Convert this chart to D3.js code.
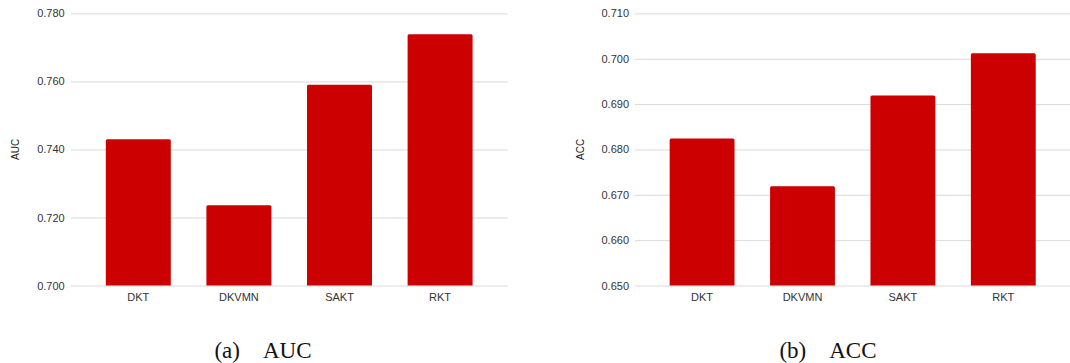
<!DOCTYPE html>
<html>
<head>
<meta charset="utf-8">
<script src="https://cdn.jsdelivr.net/npm/d3@7"></script>
<style>
  html, body { margin: 0; padding: 0; background: #fff; }
  svg { display: block; }
  .tick text { font-family: "Liberation Sans", Arial, sans-serif; font-size: 11px; fill: #333; }
  .grid .tick line { stroke: #d9d9d9; stroke-width: 1; }
  .caption { font-family: "Liberation Serif", "Times New Roman", serif; font-size: 23px; fill: #111; }
  .ytitle { font-family: "Liberation Sans", Arial, sans-serif; font-size: 10px; fill: #222; }
</style>
</head>
<body>
<svg id="chart" width="1070" height="363"></svg>
<script>
// Models compared in both panels
const models = ["DKT", "DKVMN", "SAKT", "RKT"];

// Panel (a): AUC per model
const aucValues = [0.743, 0.7236, 0.759, 0.7739];
const aucTicks = [0.700, 0.720, 0.740, 0.760, 0.780];

// Panel (b): ACC per model
const accValues = [0.6824, 0.6719, 0.6919, 0.7012];
const accTicks = [0.650, 0.660, 0.670, 0.680, 0.690, 0.700, 0.710];

const svg = d3.select("#chart");
const barColor = "#cc0000";

function topRoundedBar(x, y, w, h, r) {
  r = Math.min(r, h, w / 2);
  return `M${x},${y + h}V${y + r}Q${x},${y} ${x + r},${y}H${x + w - r}Q${x + w},${y} ${x + w},${y + r}V${y + h}Z`;
}

function drawPanel(opt) {
  const g = svg.append("g");

  const y = d3.scaleLinear()
    .domain([opt.ticks[0], opt.ticks[opt.ticks.length - 1]])
    .range([285.5, 13.4]);

  const x = d3.scaleBand()
    .domain(models)
    .range(opt.bandRange)
    .paddingInner(0.354)
    .paddingOuter(0.177);

  // horizontal grid + value labels
  const gridW = opt.gridX[1] - opt.gridX[0];
  const axis = g.append("g")
    .attr("class", "grid")
    .attr("transform", `translate(${opt.gridX[0]},0)`)
    .call(d3.axisLeft(y)
      .tickValues(opt.ticks)
      .tickFormat(d3.format(".3f"))
      .tickSize(-gridW)
      .tickPadding(6));
  axis.select(".domain").remove();

  // bars
  g.selectAll("path.bar")
    .data(opt.values)
    .join("path")
    .attr("class", "bar")
    .attr("fill", barColor)
    .attr("d", (d, i) => {
      const bx = x(models[i]);
      const by = y(d);
      return topRoundedBar(bx, by, x.bandwidth(), y.range()[0] - by, 1.5);
    });

  // category labels
  g.selectAll("text.cat")
    .data(models)
    .join("text")
    .attr("class", "tick cat")
    .attr("x", d => x(d) + x.bandwidth() / 2)
    .attr("y", 301)
    .attr("text-anchor", "middle")
    .style("font-family", "'Liberation Sans', Arial, sans-serif")
    .style("font-size", "11px")
    .style("fill", "#333")
    .text(d => d);

  // y-axis title
  g.append("text")
    .attr("class", "ytitle")
    .attr("transform", `translate(${opt.titleX},${(y.range()[0] + y.range()[1]) / 2}) rotate(-90)`)
    .attr("text-anchor", "middle")
    .text(opt.title);

  // subfigure caption
  g.append("text")
    .attr("class", "caption")
    .attr("x", opt.captionX)
    .attr("y", 358)
    .attr("text-anchor", "middle")
    .text(opt.caption);
}

drawPanel({
  values: aucValues,
  ticks: aucTicks,
  gridX: [70.7, 507.7],
  bandRange: [88, 490.4],
  title: "AUC",
  titleX: 18.5,
  caption: "(a)\u2003AUC",
  captionX: 263
});

drawPanel({
  values: accValues,
  ticks: accTicks,
  gridX: [635, 1071],
  bandRange: [651.9, 1053.5],
  title: "ACC",
  titleX: 583.5,
  caption: "(b)\u2003ACC",
  captionX: 828
});
</script>
</body>
</html>
